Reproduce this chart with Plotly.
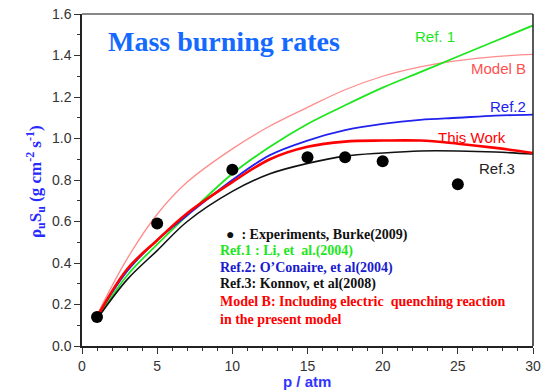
import plotly.graph_objects as go

# ---- data ----
x_model = [1, 3, 5, 7, 10, 12.5, 15, 17.5, 20, 22.5, 25, 27.5, 30]
this_work = [0.14, 0.37, 0.51, 0.64, 0.79, 0.90, 0.96, 0.985, 0.99, 0.99, 0.975, 0.955, 0.93]
ref1_li = [0.13, 0.34, 0.49, 0.63, 0.83, 0.96, 1.07, 1.16, 1.245, 1.32, 1.395, 1.47, 1.545]
ref2_oconaire = [0.14, 0.36, 0.51, 0.63, 0.80, 0.92, 0.99, 1.04, 1.07, 1.09, 1.10, 1.11, 1.115]
ref3_konnov = [0.13, 0.32, 0.46, 0.60, 0.745, 0.83, 0.88, 0.915, 0.93, 0.94, 0.94, 0.935, 0.925]
model_b = [0.15, 0.42, 0.635, 0.79, 0.95, 1.06, 1.15, 1.235, 1.30, 1.345, 1.375, 1.395, 1.405]

exp_p = [1, 5, 10, 15, 17.5, 20, 25]
exp_rate = [0.14, 0.59, 0.85, 0.91, 0.91, 0.89, 0.78]

W, H = 547, 392
L, R, T, B = 82, 14, 14, 46
PW, PH = W - L - R, H - T - B


def px(xp):
    return (xp - L) / PW


def py(yp):
    return 1 - (yp - T) / PH


GREEN = "#1ee61e"
BLUE = "#2222ee"
RED = "#ff0000"
PINK = "#ff8c8c"

fig = go.Figure()
fig.add_trace(go.Scatter(x=x_model, y=model_b, mode="lines", line=dict(color=PINK, width=1.3, shape="spline"), showlegend=False))
fig.add_trace(go.Scatter(x=x_model, y=ref1_li, mode="lines", line=dict(color=GREEN, width=1.8, shape="spline"), showlegend=False))
fig.add_trace(go.Scatter(x=x_model, y=ref2_oconaire, mode="lines", line=dict(color=BLUE, width=1.8, shape="spline"), showlegend=False))
fig.add_trace(go.Scatter(x=x_model, y=ref3_konnov, mode="lines", line=dict(color="#111111", width=1.6, shape="spline"), showlegend=False))
fig.add_trace(go.Scatter(x=x_model, y=this_work, mode="lines", line=dict(color=RED, width=2.6, shape="spline"), showlegend=False))
fig.add_trace(go.Scatter(x=exp_p, y=exp_rate, mode="markers", marker=dict(color="black", size=12), showlegend=False))

tickfont = dict(family="Arial, Liberation Sans", size=14, color="#333333")
fig.update_xaxes(range=[0, 30], dtick=5, tick0=0, ticks="outside", ticklen=6, tickwidth=1.3,
                 tickcolor="#333", showline=True, linecolor="#222", linewidth=1.5, mirror=False,
                 showgrid=False, zeroline=False, tickfont=tickfont, automargin=False,
                 minor=dict(dtick=1, ticks="outside", ticklen=3, tickcolor="#333", showgrid=False))
fig.update_yaxes(range=[0, 1.6], dtick=0.2, tick0=0, tickformat=".1f", ticks="outside", ticklen=6,
                 tickwidth=1.3, tickcolor="#333", showline=True, linecolor="#222", linewidth=1.5,
                 mirror=False, showgrid=False, zeroline=False, tickfont=tickfont, automargin=False,
                 minor=dict(dtick=0.1, ticks="outside", ticklen=3, tickcolor="#333", showgrid=False))

# frame top (gray) and right (dark)
fig.add_shape(type="line", xref="paper", yref="paper", x0=0, x1=1, y0=1, y1=1, line=dict(color="#888888", width=2))
fig.add_shape(type="line", xref="paper", yref="paper", x0=1, x1=1, y0=0, y1=1, line=dict(color="#222222", width=1.5))

ann = []


def note(text, xp, yp, font, xanchor="center", angle=0):
    ann.append(dict(text=text, x=px(xp), y=py(yp), xref="paper", yref="paper", xanchor=xanchor,
                    yanchor="middle", showarrow=False, textangle=angle, font=font))


note("<b>Mass burning rates</b>", 224, 42,
     dict(family="Liberation Serif, Times New Roman", size=28, color="#1469ff"))
note("<b>ρ<sub>u</sub>S<sub>u</sub> (g cm<sup>-2</sup> s<sup>-1</sup>)</b>", 35, 182,
     dict(family="Liberation Serif, Times New Roman", size=17, color="#2a2aff"), angle=-90)
note("<b>p / atm</b>", 307, 381, dict(family="Arial, Liberation Sans", size=15, color="#3333ff"))

lab = dict(family="Arial, Liberation Sans", size=15)
note("Ref. 1", 435, 36, dict(**lab, color=GREEN))
note("Model B", 498, 68, dict(**lab, color="#ff5050"))
note("Ref.2", 508, 106, dict(**lab, color=BLUE))
note("This Work", 472, 137, dict(**lab, color=RED))
note("Ref.3", 497, 168, dict(**lab, color="#222222"))

leg_font = dict(family="Liberation Serif, Times New Roman", size=14)
leg_lines = [
    ("<b>●  : Experiments, Burke(2009)</b>", "#111111", 224, 235),
    ("<b>Ref.1 : Li, et  al.(2004)</b>", GREEN, 218, 251),
    ("<b>Ref.2: O’Conaire, et al(2004)</b>", "#1a1ad0", 218, 268),
    ("<b>Ref.3: Konnov, et al(2008)</b>", "#111111", 218, 284),
    ("<b>Model B: Including electric  quenching reaction</b>", RED, 218, 301),
    ("<b>in the present model</b>", RED, 218, 319),
]
for t, c, xx, yy in leg_lines:
    note(t, xx, yy, dict(**leg_font, color=c), xanchor="left")

fig.update_layout(width=W, height=H, margin=dict(l=L, r=R, t=T, b=B, autoexpand=False),
                  plot_bgcolor="white", paper_bgcolor="white", annotations=ann, showlegend=False)

fig.write_html("out.html")
